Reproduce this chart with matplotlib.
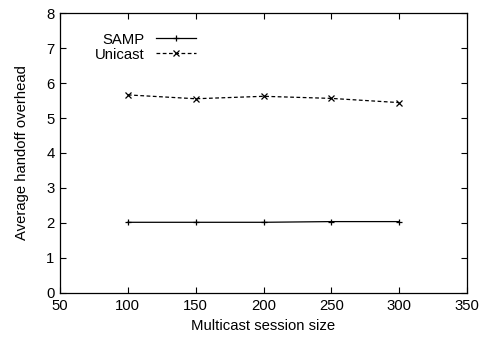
import matplotlib
matplotlib.use("Agg")
import matplotlib.pyplot as plt

sizes = [100, 150, 200, 250, 300]
samp = [2.02, 2.02, 2.02, 2.04, 2.04]
unicast = [5.66, 5.55, 5.62, 5.56, 5.44]
xticks = [50, 100, 150, 200, 250, 300, 350]
yticks = [0, 1, 2, 3, 4, 5, 6, 7, 8]

plt.rcParams['font.family'] = ['Liberation Sans', 'DejaVu Sans']
fs = 10.7
fig = plt.figure(figsize=(4.84, 3.37), dpi=100)
ax = fig.add_axes([0.124, 0.1306, 0.841, 0.8308])

ax.plot(sizes, samp, color='black', linewidth=0.9, marker='+', markersize=5,
        markeredgewidth=0.9, label='SAMP')
ax.plot(sizes, unicast, color='black', linewidth=0.9, linestyle=(0, (3, 2)),
        marker='x', markersize=4, markeredgewidth=0.9, label='Unicast')

ax.set_xlim(50, 350)
ax.set_ylim(0, 8)
ax.set_xticks(xticks)
ax.set_yticks(yticks)
ax.tick_params(direction='in', top=True, right=True, length=4, width=0.8,
               labelsize=fs, pad=4)
for s in ax.spines.values():
    s.set_linewidth(0.9)
ax.set_xlabel('Multicast session size', fontsize=fs, labelpad=5)
ax.set_ylabel('Average handoff overhead', fontsize=fs, labelpad=12)

leg = ax.legend(loc='upper right', bbox_to_anchor=(0.334, 0.93), frameon=False,
                markerfirst=False, fontsize=fs, handlelength=2.7,
                handletextpad=0.74, labelspacing=0.07, borderaxespad=0.0,
                borderpad=0.0)
for t in leg.get_texts():
    t.set_ha('right')
leg._legend_box.align = 'right'

fig.savefig('out.png', dpi=100)
